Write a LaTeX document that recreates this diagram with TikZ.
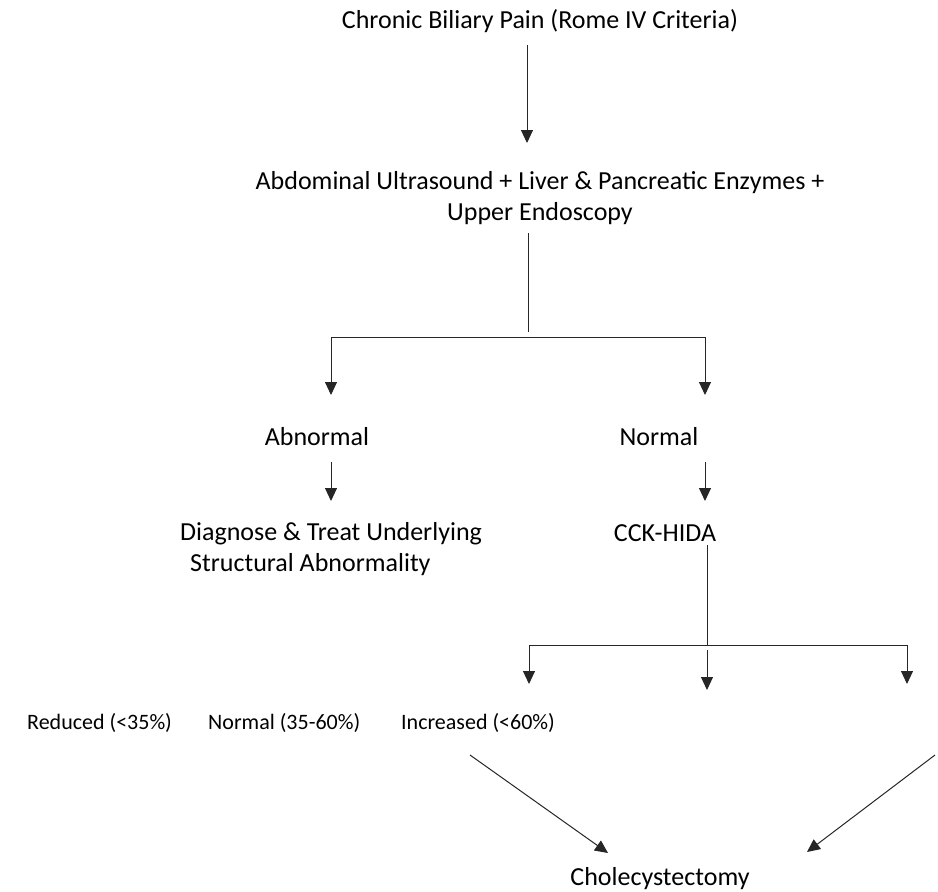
\documentclass[tikz,border=0pt]{standalone}
\usepackage{fontspec}
\setmainfont{Carlito}
\usetikzlibrary{arrows.meta}
\tikzset{
  txt/.style={inner sep=0pt, font=\fontsize{26}{31}\selectfont},
  small/.style={inner sep=0pt, font=\fontsize{22}{26}\selectfont},
  flow/.style={draw=black!85, line width=1pt},
  go/.style={flow, -{Triangle[width=12pt,length=13pt]}}
}
\begin{document}
\begin{tikzpicture}[x=1pt, y=-1pt]
  \useasboundingbox (0,0) rectangle (938,892);

  % Textos
  \node[txt] (pain) at (540,21) {Chronic Biliary Pain (Rome IV Criteria)};
  \node[txt, align=center] (tests) at (540,198)
    {Abdominal Ultrasound + Liver \& Pancreatic Enzymes +\\Upper Endoscopy};
  \node[txt] (abn) at (317,437) {Abnormal};
  \node[txt] (nor) at (659,437) {Normal};
  \node[txt, anchor=west, align=left] (treat) at (180,549)
    {Diagnose \& Treat Underlying\\\hspace*{10pt}Structural Abnormality};
  \node[txt] (hida) at (665,533) {CCK-HIDA};
  \node[small, anchor=west] (red) at (27,723) {Reduced (<35\%)};
  \node[small, anchor=west] (nrm) at (208,723) {Normal (35-60\%)};
  \node[small, anchor=west] (inc) at (401,723) {Increased (<60\%)};
  \node[txt] (chole) at (660,879) {Cholecystectomy};

  % Puntos de los conectores
  \coordinate (p1) at (527,45);   \coordinate (p2) at (527,143);
  \coordinate (t1) at (528,233);  \coordinate (t2) at (528,332);
  \coordinate (bl) at (331,337);  \coordinate (br) at (705,337);
  \coordinate (al) at (331,395);  \coordinate (ar) at (705,395);
  \coordinate (s1) at (331,462);  \coordinate (s2) at (331,501);
  \coordinate (n1) at (705,462);  \coordinate (n2) at (705,501);
  \coordinate (h1) at (707,545);  \coordinate (h2) at (707,645);
  \coordinate (cl) at (529,645);  \coordinate (cr) at (907,645);
  \coordinate (el) at (529,684);  \coordinate (er) at (907,684);
  \coordinate (m1) at (707,650);  \coordinate (m2) at (707,690);
  \coordinate (d1) at (470,755);  \coordinate (d2) at (608,853);
  \coordinate (g1) at (935,755);  \coordinate (g2) at (807,852);

  % Conectores
  \draw[go] (p1) -- (p2);
  \draw[flow] (t1) -- (t2);
  \draw[go] (br) -- (bl) -- (al);
  \draw[go] (bl) -- (br) -- (ar);
  \draw[go] (s1) -- (s2);
  \draw[go] (n1) -- (n2);
  \draw[flow] (h1) -- (h2);
  \draw[go] (cr) -- (cl) -- (el);
  \draw[go] (cl) -- (cr) -- (er);
  \draw[go] (m1) -- (m2);
  \draw[go] (d1) -- (d2);
  \draw[go] (g1) -- (g2);
\end{tikzpicture}
\end{document}
